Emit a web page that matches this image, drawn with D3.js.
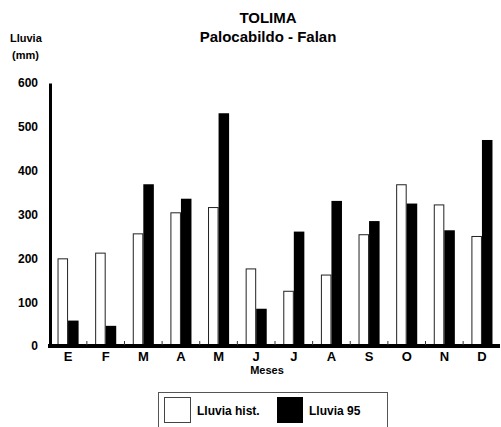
<!DOCTYPE html>
<html><head><meta charset="utf-8">
<script src="https://cdn.jsdelivr.net/npm/d3@7"></script>
<style>body{margin:0;background:#fff}svg{display:block;font-family:"Liberation Sans",Arial,sans-serif;font-weight:bold}</style>
</head><body><svg id="c" width="501" height="427"></svg>
<script>
const months = ["E","F","M","A","M","J","J","A","S","O","N","D"];
const lluviaHist = [200,213,257,305,317,177,126,163,255,369,323,251];
const lluvia95 = [58,46,369,336,531,85,261,331,285,325,264,470];
const yTicks = [0,100,200,300,400,500,600];
const seriesNames = ["Lluvia hist.","Lluvia 95"];

const svg = d3.select("#c");
const keys = months.map((m,i)=>i);
const x = d3.scaleBand().domain(keys).range([50,500]).paddingInner(0.44).paddingOuter(0.2);
const xs = d3.scaleBand().domain([0,1]).range([0,x.bandwidth()]);
const y = d3.scaleLinear().domain([0,600]).range([346,83]);

// title
svg.append("text").attr("x",268).attr("y",23).attr("text-anchor","middle").attr("font-size",15).text("TOLIMA");
svg.append("text").attr("x",268).attr("y",42).attr("text-anchor","middle").attr("font-size",15).text("Palocabildo - Falan");
svg.append("text").attr("x",10).attr("y",42).attr("font-size",11).text("Lluvia");
svg.append("text").attr("x",12).attr("y",59).attr("font-size",11).text("(mm)");

// bars
const g = svg.append("g");
g.selectAll("rect.h").data(lluviaHist).join("rect").attr("class","h")
 .attr("x",(d,i)=>x(i)+xs(0)+0.5).attr("width",xs.bandwidth()-1)
 .attr("y",d=>y(d)+0.5).attr("height",d=>y(0)-y(d))
 .attr("fill","#fff").attr("stroke","#222").attr("stroke-width",1);
g.selectAll("rect.n").data(lluvia95).join("rect").attr("class","n")
 .attr("x",(d,i)=>x(i)+xs(1)).attr("width",xs.bandwidth())
 .attr("y",d=>y(d)).attr("height",d=>y(0)-y(d))
 .attr("fill","#000");

// y axis
const ya = svg.append("g").attr("transform","translate(50,0)")
 .call(d3.axisLeft(y).tickValues(yTicks).tickSize(0).tickPadding(12));
ya.select(".domain").attr("stroke","#000").attr("stroke-width",3);
ya.selectAll("text").attr("font-size",12).attr("font-weight","bold").attr("font-family","Liberation Sans, Arial, sans-serif").attr("fill","#000");

// x axis
const xa = svg.append("g").attr("transform","translate(0,346)")
 .call(d3.axisBottom(x).tickFormat(i=>months[i]).tickSize(0).tickPadding(6));
xa.select(".domain").attr("stroke","#000").attr("stroke-width",4).attr("d","M48,0H500");
xa.selectAll("text").attr("font-size",13).attr("font-weight","bold").attr("font-family","Liberation Sans, Arial, sans-serif").attr("fill","#000");
// small separators between groups
svg.append("g").selectAll("line").data(keys.slice(1)).join("line")
 .attr("x1",i=>x(i)-x.step()*x.paddingInner()/2).attr("x2",i=>x(i)-x.step()*x.paddingInner()/2)
 .attr("y1",341).attr("y2",345).attr("stroke","#333").attr("stroke-width",1);

svg.append("text").attr("x",267).attr("y",374).attr("text-anchor","middle").attr("font-size",11).text("Meses");

// legend
const lg = svg.append("g");
lg.append("rect").attr("x",158.5).attr("y",392.5).attr("width",229).attr("height",40).attr("fill","#fff").attr("stroke","#555").attr("stroke-width",1);
lg.append("rect").attr("x",164.5).attr("y",397.5).attr("width",26).attr("height",25).attr("fill","#fff").attr("stroke","#444");
lg.append("text").attr("x",197).attr("y",415).attr("font-size",12).text(seriesNames[0]);
lg.append("rect").attr("x",277).attr("y",397).attr("width",26).attr("height",26).attr("fill","#000");
lg.append("text").attr("x",309).attr("y",415).attr("font-size",12).text(seriesNames[1]);
</script></body></html>
